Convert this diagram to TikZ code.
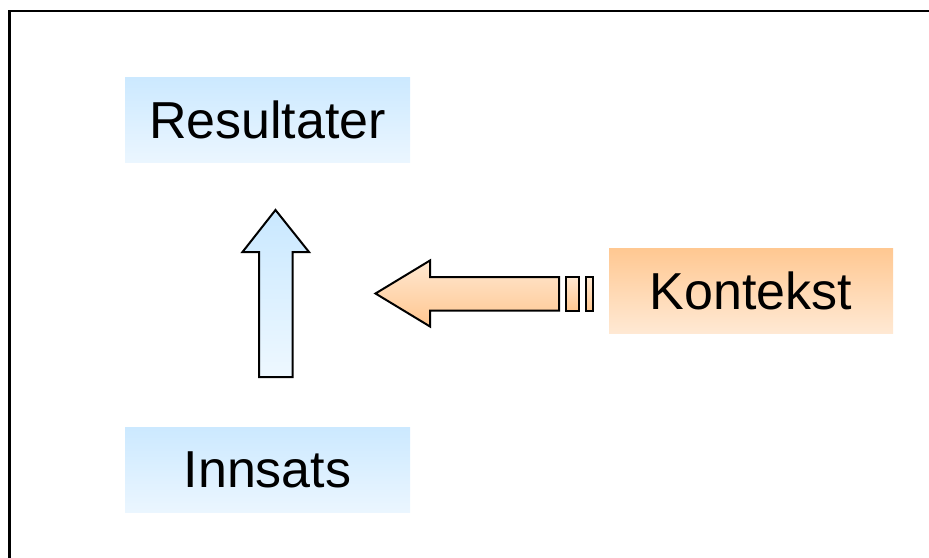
\documentclass[tikz,border=0pt]{standalone}
\usepackage{fontspec}
\setmainfont{Liberation Sans}
\begin{document}
\begin{tikzpicture}[x=1pt,y=-1pt,
  bluebox/.style={rectangle, inner sep=0pt, minimum width=285pt, minimum height=85pt,
    top color=blueTop, bottom color=blueBot, font=\fontsize{52}{60}\selectfont},
  orangebox/.style={rectangle, inner sep=0pt, minimum width=284pt, minimum height=85pt,
    top color=orTop, bottom color=orBot, font=\fontsize{52}{60}\selectfont},
  blockarrow/.style={draw=black, line width=2pt, line join=miter}]
\definecolor{blueTop}{HTML}{CCE9FF}
\definecolor{blueBot}{HTML}{EBF6FF}
\definecolor{orTop}{HTML}{FFC892}
\definecolor{orBot}{HTML}{FFE9D4}
\definecolor{arOrLight}{HTML}{FFE8D2}
\definecolor{arOrDark}{HTML}{FFC68F}
\definecolor{arBlueTop}{HTML}{C9E8FF}
\definecolor{arBlueBot}{HTML}{EEF8FF}
\useasboundingbox (0,0) rectangle (929,557);
\clip (0,0) rectangle (929,557);
% frame
\draw[line width=2.4pt] (9.5,11) rectangle (960,600);
% boxes
\node[bluebox] (res) at (267.5,120) {Resultater};
\node[bluebox] (inn) at (267.5,470) {Innsats};
\node[orangebox] (kon) at (751,291) {Kontekst};
% up arrow
\draw[blockarrow, top color=arBlueTop, bottom color=arBlueBot]
  (275.5,210) -- (309,252) -- (292.5,252) -- (292.5,377) -- (259,377) -- (259,252) -- (242.5,252) -- cycle;
% left arrow
\draw[blockarrow, top color=arOrLight, bottom color=arOrDark]
  (375.5,293.5) -- (430,260.5) -- (430,277) -- (559,277) -- (559,310.5) -- (430,310.5) -- (430,326.5) -- cycle;
\draw[blockarrow, top color=arOrLight, bottom color=arOrDark] (565.5,277) rectangle (579,310.5);
\draw[blockarrow, top color=arOrLight, bottom color=arOrDark] (586,277) rectangle (592.5,310.5);
\end{tikzpicture}
\end{document}
